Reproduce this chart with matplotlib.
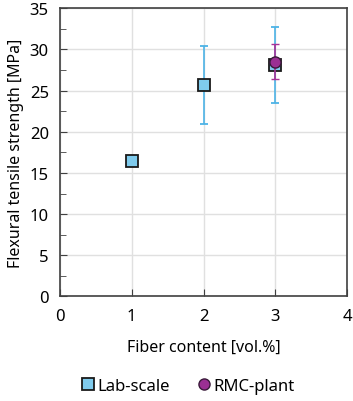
import matplotlib.pyplot as plt
from matplotlib.ticker import MultipleLocator

plt.rcParams['font.family'] = ['Noto Sans', 'DejaVu Sans']

# Lab-scale
lab_x = [1, 2, 3]
lab_y = [16.4, 25.7, 28.1]
lab_err = [0.0, 4.75, 4.6]

# RMC-plant
rmc_x = [3]
rmc_y = [28.5]
rmc_err = [2.15]

fig = plt.figure(figsize=(3.53, 4.02), dpi=100)
ax = fig.add_axes([0.17, 0.26, 0.813, 0.717])

ax.errorbar(lab_x, lab_y, yerr=lab_err, fmt='s', color='#4db3e6', ecolor='#4db3e6',
            elinewidth=1.2, capsize=3, capthick=1.2, markersize=11.5,
            markerfacecolor='#7fcbed', markeredgecolor='#1a1a1a', markeredgewidth=1.3,
            label='Lab-scale', zorder=3)
ax.errorbar(rmc_x, rmc_y, yerr=rmc_err, fmt='o', color='#a83297', ecolor='#a83297',
            elinewidth=1.2, capsize=3, capthick=1.2, markersize=11,
            markerfacecolor='#9b2f93', markeredgecolor='#3a1a3a', markeredgewidth=1.0,
            label='RMC-plant', zorder=4)

ax.set_xlim(0, 4)
ax.set_ylim(0, 35)
ax.xaxis.set_major_locator(MultipleLocator(1))
ax.yaxis.set_major_locator(MultipleLocator(5))
ax.yaxis.set_minor_locator(MultipleLocator(2.5))
ax.grid(True, which='major', color='#e0e0e0', linewidth=1.0)
ax.set_axisbelow(True)
ax.tick_params(axis='both', which='major', direction='in', length=5, labelsize=12,
               color='#404040', pad=8)
ax.tick_params(axis='y', which='minor', direction='in', length=4, color='#404040')
for s in ax.spines.values():
    s.set_color('#404040')
    s.set_linewidth(1.2)

ax.set_xlabel('Fiber content [vol.%]', fontsize=11.5, labelpad=11)
ax.set_ylabel('Flexural tensile strength [MPa]', fontsize=11.5, labelpad=4)

handles, labels = ax.get_legend_handles_labels()
handles = [h[0] for h in handles]
for h in handles:
    h.set_markersize(8)
fig.legend(handles, labels, loc='center', bbox_to_anchor=(0.53, 0.038), ncol=2,
           frameon=False, fontsize=12, handletextpad=0.1, columnspacing=1.5,
           handlelength=1.0)

fig.savefig('out.png', dpi=100)
